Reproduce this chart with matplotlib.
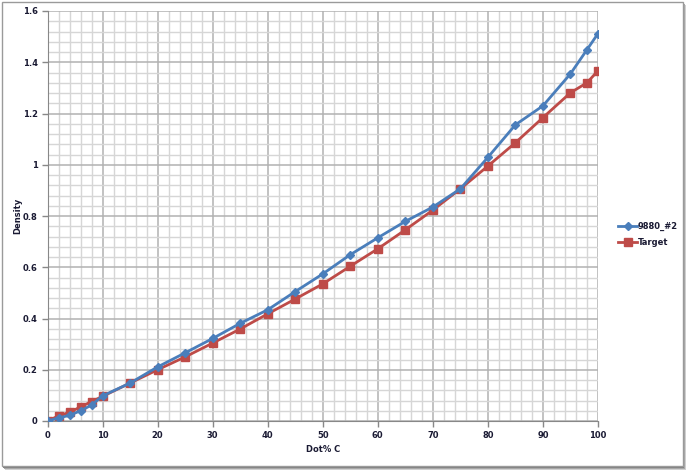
import matplotlib
matplotlib.use("Agg")
import matplotlib.pyplot as plt
from matplotlib.patches import Rectangle
from matplotlib.lines import Line2D

x_vals = [0, 2, 4, 6, 8, 10, 15, 20, 25, 30, 35, 40, 45, 50, 55, 60, 65, 70, 75, 80, 85, 90, 95, 98, 100]
series_9880 = [0.0, 0.012, 0.022, 0.040, 0.062, 0.098, 0.148, 0.211, 0.266, 0.322, 0.381, 0.434, 0.505, 0.574, 0.649, 0.715, 0.779, 0.835, 0.906, 1.029, 1.156, 1.230, 1.355, 1.449, 1.512]
series_target = [0.0, 0.020, 0.034, 0.055, 0.076, 0.096, 0.148, 0.200, 0.250, 0.304, 0.359, 0.418, 0.476, 0.535, 0.604, 0.672, 0.746, 0.823, 0.906, 0.995, 1.086, 1.184, 1.281, 1.320, 1.367]
series_names = ["9880_#2", "Target"]
x_label = "Dot% C"
y_label = "Density"

W, H = 688, 471
fig = plt.figure(figsize=(W / 100, H / 100), dpi=100)
fig.patch.set_facecolor("white")

# outer frame with shadow
for i, c in enumerate(["#d0d0d0", "#a8a8a8", "#808080"]):
    off = 3 - i
    fig.patches.append(Rectangle(((2 + off) / W, (H - 467 - off) / H), 681 / W, 465 / H,
                                 transform=fig.transFigure, facecolor=c, edgecolor="none", zorder=-3))
fig.patches.append(Rectangle((2 / W, (H - 466) / H), 681 / W, 464 / H, transform=fig.transFigure,
                             facecolor="white", edgecolor="#9a9a9a", linewidth=1.0, zorder=-2))

left, right, top, bottom = 47.5, 598, 11, 421
ax = fig.add_axes([left / W, (H - bottom) / H, (right - left) / W, (bottom - top) / H])
ax.set_zorder(5)
ax.set_xlim(0, 100)
ax.set_ylim(0, 1.6)
ax.set_xticks(range(0, 101, 10))
ax.set_xticks(range(0, 101, 2), minor=True)
ax.set_yticks([0, 0.2, 0.4, 0.6, 0.8, 1.0, 1.2, 1.4, 1.6])
ax.set_yticks([i * 0.04 for i in range(41)], minor=True)
ax.set_yticklabels(["0", "0.2", "0.4", "0.6", "0.8", "1", "1.2", "1.4", "1.6"])
ax.grid(which="minor", color="#d6d6d6", linewidth=1.0, zorder=0)
ax.grid(which="major", color="#b2b2b2", linewidth=1.1, zorder=0)
ax.tick_params(which="minor", length=0)
ax.tick_params(which="major", length=4, color="#888888", width=1, labelsize=6, labelcolor="#1a1a33", pad=3)
for lab in ax.get_xticklabels() + ax.get_yticklabels():
    lab.set_fontweight("bold")
for s in ["top", "right"]:
    ax.spines[s].set_visible(False)
for s in ["left", "bottom"]:
    ax.spines[s].set_color("#888888")
ax.set_axisbelow(True)

ax.plot(x_vals, series_9880, color="#4a7ebb", linewidth=2, marker="D", markersize=4,
        markerfacecolor="#4a7ebb", markeredgecolor="#4a7ebb", label=series_names[0], zorder=3)
ax.plot(x_vals, series_target, color="#be4b48", linewidth=2, marker="s", markersize=6,
        markerfacecolor="#be4b48", markeredgecolor="#be4b48", label=series_names[1], zorder=2)

ax.set_xlabel(x_label, fontsize=6, fontweight="bold", color="#1a1a33", labelpad=4)
ax.set_ylabel(y_label, fontsize=6, fontweight="bold", color="#1a1a33")
ax.yaxis.set_label_coords(-(left - 22) / (right - left), 0.5)

handles = [Line2D([], [], color="#4a7ebb", linewidth=2, marker="D", markersize=4),
           Line2D([], [], color="#be4b48", linewidth=2, marker="s", markersize=6)]
fig.legend(handles, series_names, loc="center left", bbox_to_anchor=(618 / W, (H - 234.5) / H),
           frameon=False, prop={"size": 6, "weight": "bold"}, labelcolor="#1a1a33",
           handlelength=2.3, handletextpad=0.1, labelspacing=0.9, borderaxespad=0, borderpad=0)

fig.savefig("out.png", dpi=100, facecolor="white")
